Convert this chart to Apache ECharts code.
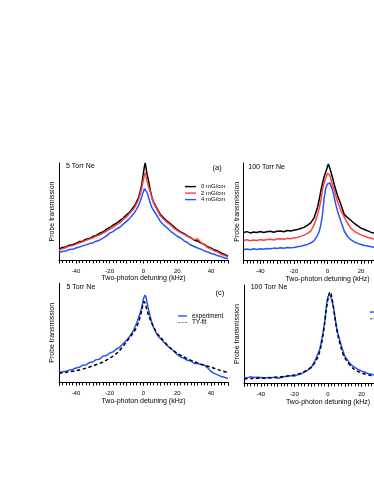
<!DOCTYPE html>
<html>
<head>
<meta charset="utf-8">
<script src="https://cdn.jsdelivr.net/npm/echarts@6/dist/echarts.min.js"></script>
<style>html,body{margin:0;padding:0;background:#fff}#c{width:374px;height:484px}</style>
</head>
<body>
<div id="c"></div>
<script>
// detuning grid (kHz) for measured traces
const xMeas = [-50,-48,-46,-44,-42,-40,-38,-36,-34,-32,-30,-28,-26,-24,-22,-20,-18,-16,-14,-12,-10,-8,-6,
  -5,-4,-3,-2,-1,-0.5,0,0.5,1,1.5,2,3,4,5,6,
  8,10,12,14,16,18,20,22,24,26,28,30,32,34,36,38,40,42,44,46,48,50];
// detuning grid (kHz) for fits
const xFit = [-50,-45,-40,-35,-30,-25,-20,-15,-10,-8,-6,-5,-4,-3,-2,-1,-0.5,0,0.5,1,1.5,2,3,4,5,6,8,10,15,20,25,30,35,40,45,50];

const tickLabels = [-40,-20,0,20,40];

// (a) 5 Torr Ne
const a0 = [11.3,12.9,13.4,15.3,15.7,17.2,19.0,19.4,21.5,22.1,24.2,25.4,27.5,28.8,31.6,33.5,35.9,37.9,40.6,43.3,46.6,49.6,54.5,
  56.7,60.4,64.0,70.5,78.0,84.0,90.0,96.0,100,95.0,89.5,81.5,72.0,64.5,59.5,
  53.2,46.8,43.3,40.0,37.2,34.3,31.2,29.0,27.2,24.9,23.0,20.4,19.7,17.4,16.1,13.6,12.1,10.5,9.2,7.2,5.8,3.9];
const a2 = [10.2,11.6,12.7,14.3,14.8,16.1,17.6,18.8,20.2,21.7,22.8,24.6,25.8,27.7,29.6,31.8,33.6,36.4,38.3,41.8,44.5,48.4,52.3,
  55.0,58.3,62.0,67.5,74.5,79.0,83.0,87.5,90.0,86.5,82.0,75.5,70.0,63.5,58.5,
  52.2,45.3,42.0,38.8,36.2,32.8,30.2,28.2,26.4,24.4,22.7,20.8,21.8,18.0,15.7,12.8,11.4,9.3,8.2,6.0,4.8,3.0];
const a4 = [7.8,8.8,9.3,10.8,11.0,12.4,13.4,14.6,15.6,16.9,17.6,19.4,20.4,22.6,24.6,27.7,29.2,32.0,33.8,37.0,39.8,43.4,47.4,
  49.8,52.8,56.0,60.0,65.5,68.5,71.0,73.5,75.0,73.8,70.0,64.5,58.5,54.0,51.0,
  45.6,39.7,36.0,33.2,29.6,27.2,24.5,22.7,19.8,18.0,15.4,13.9,12.4,11.2,9.4,8.3,6.7,5.9,4.3,3.5,2.0,1.4];

// (b) 100 Torr Ne
const b0 = [28.7,29.6,28.3,29.3,28.7,29.7,28.8,29.5,29.9,29.0,30.0,30.2,29.5,30.7,30.3,31.1,31.7,32.8,34.0,36.1,38.6,43.7,54.0,
  62.0,71.0,79.0,86.0,91.0,93.5,96.5,99.0,96.5,94.0,91.0,85.0,78.0,72.0,66.5,
  57.5,47.0,44.0,41.0,38.0,35.5,33.2,31.8,30.4,28.8,28.2,27.6,27.9,27.0,26.6,27.1,26.3,26.0,26.4,25.8,25.5,25.9];
const b2 = [20.5,21.3,20.2,21.1,20.5,21.5,20.8,21.6,21.9,21.1,22.1,22.4,21.8,22.7,22.4,23.0,23.7,24.7,26.0,27.9,30.0,36.5,46.5,
  53.0,61.0,72.5,79.5,84.5,87.0,89.5,91.5,89.5,87.0,83.5,77.0,72.5,66.0,60.5,
  51.0,44.5,38.0,33.0,30.0,27.8,26.3,24.9,23.6,22.8,21.9,21.4,21.7,20.9,20.5,20.9,20.2,19.9,20.3,19.7,19.4,19.8];
const b4 = [11.0,11.7,11.1,12.0,11.3,12.1,11.6,12.4,12.0,12.7,12.3,13.0,12.6,13.4,13.0,13.4,14.1,14.5,15.6,16.5,17.9,20.4,25.6,
  29.5,36.0,47.0,64.0,74.5,76.5,78.5,79.5,80.5,79.5,77.0,72.5,65.0,57.0,50.5,
  40.0,30.0,24.6,21.1,19.0,17.6,16.5,15.4,14.9,14.1,13.6,13.2,13.5,12.8,12.5,12.9,12.2,12.0,12.4,11.8,11.6,11.9];

// (c) 5 Torr Ne, experiment and TY-fit
const cExp = [9.7,10.6,11.1,12.3,13.0,14.5,15.1,17.3,17.5,19.9,20.5,22.9,23.4,26.3,27.0,29.6,30.7,33.6,35.4,39.1,42.5,46.9,52.0,
  56.1,59.8,64.9,70.0,75.6,79.6,84.8,86.8,88.2,85.7,81.2,73.0,66.4,59.6,55.2,
  48.3,44.2,40.8,37.1,34.4,31.3,27.9,25.5,24.2,22.3,21.6,19.0,18.9,18.0,17.4,14.5,10.9,8.8,7.5,5.8,5.0,3.9];
const cFit = [9.1,10.3,11.7,13.8,16.5,19.8,24.2,30.6,41.0,45.6,50.1,52.8,56.2,60.3,66.2,73.0,77.6,80.7,81.4,79.6,
  76.6,73.5,67.9,63.4,59.6,55.7,49.6,45.5,35.9,29.3,24.7,20.8,17.8,15.2,12.3,9.7];

// (d) 100 Torr Ne, experiment and TY-fit
const dExp = [6.4,5.5,6.8,5.9,6.2,5.8,5.2,6.0,5.4,6.3,5.1,5.9,6.6,7.2,7.8,7.4,8.6,9.5,11.4,13.5,15.9,22.0,30.0,
  34.3,42.0,51.2,62.0,78.1,84.0,88.2,90.0,90.5,89.5,86.0,79.5,69.0,57.9,50.0,
  37.7,27.6,22.5,18.6,16.2,14.0,12.4,11.2,9.8,9.1,8.3,7.9,8.4,7.6,7.2,7.7,7.0,6.8,7.3,6.6,6.4,6.9];
const dFit = [4.6,4.9,5.3,5.7,6.3,7.2,8.5,11.0,16.5,20.5,27.0,32.0,39.0,49.0,61.0,75.0,81.0,86.0,90.0,92.5,
  93.0,90.0,80.0,68.5,57.0,48.0,35.0,26.0,15.0,10.5,8.2,6.8,6.0,5.3,4.8,4.5];

const FONT = 'Liberation Sans, Arial, Helvetica, sans-serif';
const BLACK = '#000000', RED = '#ff4040', BLUE = '#2255ff';
const zip = (xs, ys) => xs.map((x, i) => [x, ys[i]]);
const SOLID_ICON = 'rect';
const DASH_ICON = 'path://M0,0h4v1h-4z M6,0h4v1h-4z M12,0h4v1h-4z';

const grids = [
  {left: 59, top: 163, width: 169, height: 97},
  {left: 243.5, top: 163, width: 168, height: 97.5},
  {left: 59, top: 283.3, width: 169, height: 99},
  {left: 244, top: 285, width: 168, height: 98.3}
].map(g => Object.assign(g, {outerBoundsMode: 'none', containLabel: false}));

function xAx(i) {
  return {
    gridIndex: i, type: 'value', min: -50, max: 50, interval: 10,
    axisLine: {show: true, onZero: false, lineStyle: {color: BLACK, width: 1}},
    axisTick: {show: true, length: 3.5, lineStyle: {color: BLACK, width: 1}},
    minorTick: {show: true, splitNumber: 5, length: 3, lineStyle: {color: BLACK, width: 1}},
    splitLine: {show: false},
    axisLabel: {
      fontSize: 6, fontFamily: FONT, color: BLACK, margin: 8,
      formatter: v => tickLabels.indexOf(v) >= 0 ? String(v) : ''
    },
    name: 'Two-photon detuning (kHz)', nameLocation: 'middle', nameGap: 12,
    nameTextStyle: {fontSize: 7, fontFamily: FONT, color: BLACK}
  };
}
function yAx(i) {
  return {
    gridIndex: i, type: 'value', min: 0, max: 100,
    axisLine: {show: true, onZero: false, lineStyle: {color: BLACK, width: 1}},
    axisTick: {show: false}, axisLabel: {show: false}, splitLine: {show: false},
    name: 'Probe transmission', nameLocation: 'middle', nameGap: 3, nameRotate: 90,
    nameTextStyle: {fontSize: 7, fontFamily: FONT, color: BLACK}
  };
}
function line(i, name, xs, ys, color, dashed) {
  return {
    type: 'line', name: name, xAxisIndex: i, yAxisIndex: i, data: zip(xs, ys),
    symbol: 'none', showSymbol: false, smooth: dashed ? 0.3 : false,
    lineStyle: {color: color, width: 1.5, type: dashed ? [3.5, 2.5] : 'solid'},
    itemStyle: {color: color}, z: dashed ? 5 : 2, animation: false
  };
}
function label(x, y, text, size) {
  return {type: 'text', x: x, y: y, silent: true,
    style: {text: text, fontSize: size, fontFamily: FONT, fill: BLACK, verticalAlign: 'middle'}};
}
function fitLegend(left, top) {
  return {
    data: [{name: 'experiment', icon: SOLID_ICON}, {name: 'TY-fit', icon: DASH_ICON}],
    orient: 'vertical', left: left, top: top,
    itemWidth: 9, itemHeight: 1.4, itemGap: 0.3, padding: 0, selectedMode: false,
    textStyle: {fontSize: 6.3, fontFamily: FONT, color: BLACK, lineHeight: 6.5}
  };
}

const option = {
  backgroundColor: '#fff',
  animation: false,
  grid: grids,
  xAxis: [0, 1, 2, 3].map(xAx),
  yAxis: [0, 1, 2, 3].map(yAx),
  legend: [
    {data: ['0 mG/cm', '2 mG/cm', '4 mG/cm'].map(n => ({name: n, icon: SOLID_ICON})),
      orient: 'vertical', left: 185, top: 183.5,
      itemWidth: 11, itemHeight: 1.4, itemGap: 0.3, padding: 0, selectedMode: false,
      textStyle: {fontSize: 6, fontFamily: FONT, color: BLACK, lineHeight: 6.2}},
    fitLegend(178, 312.7),
    fitLegend(370, 308.8)
  ],
  graphic: [
    label(66, 166, '5 Torr Ne', 7),
    label(212.5, 167.7, '(a)', 7.5),
    label(248.3, 166.7, '100 Torr Ne', 7),
    label(66.5, 286.7, '5 Torr Ne', 7),
    label(215.5, 293.3, '(c)', 7.5),
    label(250.7, 287.3, '100 Torr Ne', 7)
  ],
  series: [
    line(0, '0 mG/cm', xMeas, a0, BLACK),
    line(0, '2 mG/cm', xMeas, a2, RED),
    line(0, '4 mG/cm', xMeas, a4, BLUE),
    line(1, '0 mG/cm', xMeas, b0, BLACK),
    line(1, '2 mG/cm', xMeas, b2, RED),
    line(1, '4 mG/cm', xMeas, b4, BLUE),
    line(2, 'experiment', xMeas, cExp, BLUE),
    line(2, 'TY-fit', xFit, cFit, BLACK, true),
    line(3, 'experiment', xMeas, dExp, BLUE),
    line(3, 'TY-fit', xFit, dFit, BLACK, true)
  ]
};
const chart = echarts.init(document.getElementById('c'), null, {renderer: 'canvas'});
chart.setOption(option);
</script>
</body>
</html>
